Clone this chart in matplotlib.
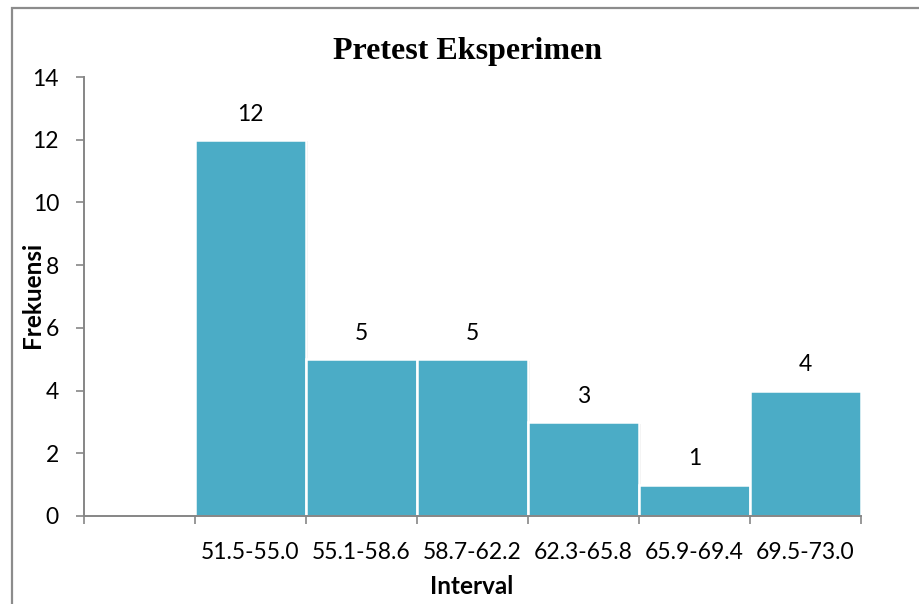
import matplotlib
matplotlib.use("Agg")
import matplotlib.pyplot as plt
import matplotlib.patheffects as pe
from matplotlib.patches import Rectangle

plt.rcParams['font.family'] = ['Lato', 'DejaVu Sans']

# frequency table
intervals = ['', '51.5-55.0', '55.1-58.6', '58.7-62.2', '62.3-65.8', '65.9-69.4', '69.5-73.0']
frekuensi = [None, 12, 5, 5, 3, 1, 4]
yticks = [0, 2, 4, 6, 8, 10, 12, 14]

bar_color = '#4BACC6'
axis_gray = '#868686'

fig = plt.figure(figsize=(9.2, 6.04), dpi=100)
ax = fig.add_axes([84 / 920, 1 - 516 / 604, (861 - 84) / 920, (516 - 77) / 604])

# outer chart border (runs off the right and bottom edges)
fig.patches.append(Rectangle((12 / 920, -0.05), 1.0, 1 - 7.5 / 604 + 0.05,
                             transform=fig.transFigure, fill=False,
                             edgecolor='#8c8c8c', linewidth=1.6, zorder=0))

xs = [i for i, v in enumerate(frekuensi) if v is not None]
vals = [v for v in frekuensi if v is not None]
bars = ax.bar(xs, vals, width=1.0, color=bar_color, edgecolor='white', linewidth=1.8,
              zorder=3)
for b in bars:
    b.set_path_effects([pe.SimplePatchShadow(offset=(1.2, -1.2), shadow_rgbFace='#bbbbbb',
                                             alpha=0.6), pe.Normal()])

for x, v in zip(xs, vals):
    ax.annotate(str(v), (x, v), xytext=(0, 18.5), textcoords='offset points',
                ha='center', va='center', fontsize=16.5)

ax.set_xlim(-0.5, len(intervals) - 0.5)
ax.set_ylim(0, 14)
ax.set_yticks(yticks)
ax.set_xticks(range(len(intervals)))
ax.set_xticklabels(intervals)
ax.set_xticks([i - 0.5 for i in range(len(intervals) + 1)], minor=True)

ax.tick_params(axis='x', which='major', length=0, pad=19, labelsize=16.5)
ax.tick_params(axis='x', which='minor', length=6, width=1.2, color=axis_gray)
ax.tick_params(axis='y', length=6, width=1.2, color=axis_gray, pad=12, labelsize=16.5)

for s in ['top', 'right']:
    ax.spines[s].set_visible(False)
for s in ['left', 'bottom']:
    ax.spines[s].set_color(axis_gray)
    ax.spines[s].set_linewidth(1.4)
    ax.spines[s].set_zorder(4)

fig.text(468 / 920, 1 - 51 / 604, 'Pretest Eksperimen', ha='center', va='center',
         fontsize=23, fontweight='bold', family='Liberation Serif')
fig.text(472 / 920, 1 - 587 / 604, 'Interval', ha='center', va='center',
         fontsize=17.5, fontweight='bold')
fig.text(33 / 920, 1 - 295 / 604, 'Frekuensi', ha='center', va='center',
         fontsize=17.5, fontweight='bold', rotation=90)

fig.savefig('out.png', dpi=100)
